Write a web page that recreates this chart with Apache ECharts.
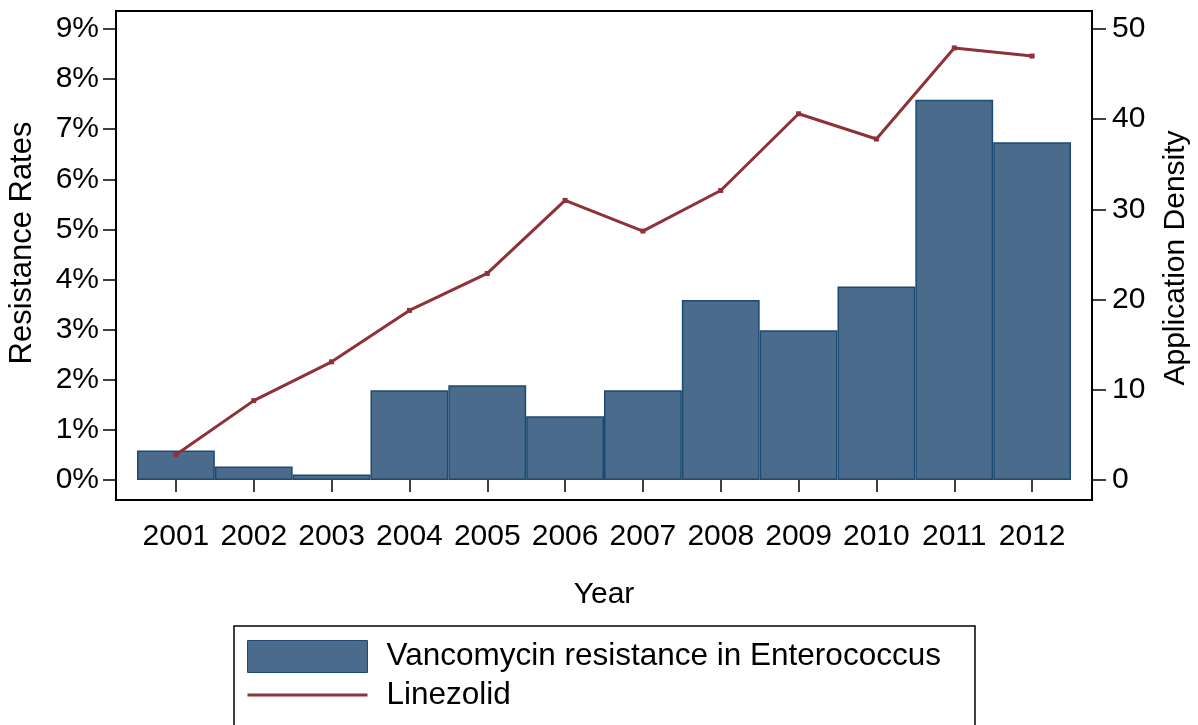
<!DOCTYPE html>
<html>
<head>
<meta charset="utf-8">
<script src="https://cdn.jsdelivr.net/npm/echarts@6/dist/echarts.min.js"></script>
<style>html,body{margin:0;padding:0;background:#fff;}#c{width:1198px;height:725px;}</style>
</head>
<body>
<div id="c"></div>
<script>
const years = ['2001','2002','2003','2004','2005','2006','2007','2008','2009','2010','2011','2012'];
const vancomycinResistance = [0.59, 0.27, 0.11, 1.79, 1.89, 1.27, 1.79, 3.59, 2.99, 3.86, 7.59, 6.74];
const linezolidDensity = [2.8, 8.8, 13.1, 18.8, 22.9, 31.0, 27.6, 32.1, 40.6, 37.8, 47.9, 47.0];
const barName = 'Vancomycin resistance in Enterococcus';
const lineName = 'Linezolid';

const FONT = "'Liberation Sans', Arial, sans-serif";
const FS = 30;
const chart = echarts.init(document.getElementById('c'), null, {renderer: 'canvas'});
chart.setOption({
  animation: false,
  backgroundColor: '#fff',
  textStyle: {fontFamily: FONT},
  grid: {left: 137, right: 127, top: 29, bottom: 245, containLabel: false},
  xAxis: {
    type: 'category', data: years, offset: 20,
    axisLine: {show: false},
    axisTick: {show: true, alignWithLabel: true, length: 12, lineStyle: {color: '#000', width: 1.5}},
    axisLabel: {color: '#000', fontSize: FS, fontFamily: FONT, margin: 22, interval: 0},
    splitLine: {show: false}
  },
  yAxis: [{
    type: 'value', min: 0, max: 9, interval: 1, offset: 21, position: 'left',
    axisLine: {show: false},
    axisTick: {show: true, length: 13, lineStyle: {color: '#000', width: 1.5}},
    axisLabel: {color: '#000', fontSize: FS, fontFamily: FONT, margin: 17, formatter: '{value}%'},
    splitLine: {show: false}
  }, {
    type: 'value', min: 0, max: 50, interval: 10, offset: 21, position: 'right',
    axisLine: {show: false},
    axisTick: {show: true, length: 14, lineStyle: {color: '#000', width: 1.5}},
    axisLabel: {color: '#000', fontSize: FS, fontFamily: FONT, margin: 20},
    splitLine: {show: false}
  }],
  legend: {
    orient: 'vertical', left: 247, top: 640, itemWidth: 120, itemHeight: 32, itemGap: 6,
    padding: 0, symbolKeepAspect: true,
    textStyle: {color: '#000', fontSize: 31.5, fontFamily: FONT, padding: [0, 0, 0, 14]},
    data: [
      {name: barName, icon: 'rect', itemStyle: {color: '#4a6b8b', borderColor: '#1d4a72', borderWidth: 1}},
      {name: lineName, icon: 'path://M0,0H120V3H0Z', itemStyle: {color: '#8e3139', borderWidth: 0}}
    ]
  },
  series: [{
    name: barName, type: 'bar', data: vancomycinResistance, yAxisIndex: 0,
    barCategoryGap: '0%',
    itemStyle: {color: '#4a6b8b', borderColor: '#1d4a72', borderWidth: 1.5}
  }, {
    name: lineName, type: 'line', data: linezolidDensity, yAxisIndex: 1,
    symbol: 'rect', symbolSize: 5,
    lineStyle: {color: '#8e3139', width: 3},
    itemStyle: {color: '#8e3139'}
  }],
  graphic: [
    {type: 'rect', shape: {x: 116, y: 11, width: 976, height: 489}, style: {fill: 'none', stroke: '#000', lineWidth: 2}, silent: true, z: 10},
    {type: 'rect', shape: {x: 234, y: 626, width: 741, height: 130}, style: {fill: 'none', stroke: '#000', lineWidth: 1.5}, silent: true},
    {type: 'text', x: 22, y: 243, rotation: Math.PI / 2, style: {text: 'Resistance Rates', font: '31px ' + FONT, fill: '#000', align: 'center', verticalAlign: 'middle'}},
    {type: 'text', x: 1176, y: 258, rotation: Math.PI / 2, style: {text: 'Application Density', font: FS + 'px ' + FONT, fill: '#000', align: 'center', verticalAlign: 'middle'}},
    {type: 'text', x: 604, y: 595, style: {text: 'Year', font: FS + 'px ' + FONT, fill: '#000', align: 'center', verticalAlign: 'middle'}}
  ]
});
</script>
</body>
</html>
